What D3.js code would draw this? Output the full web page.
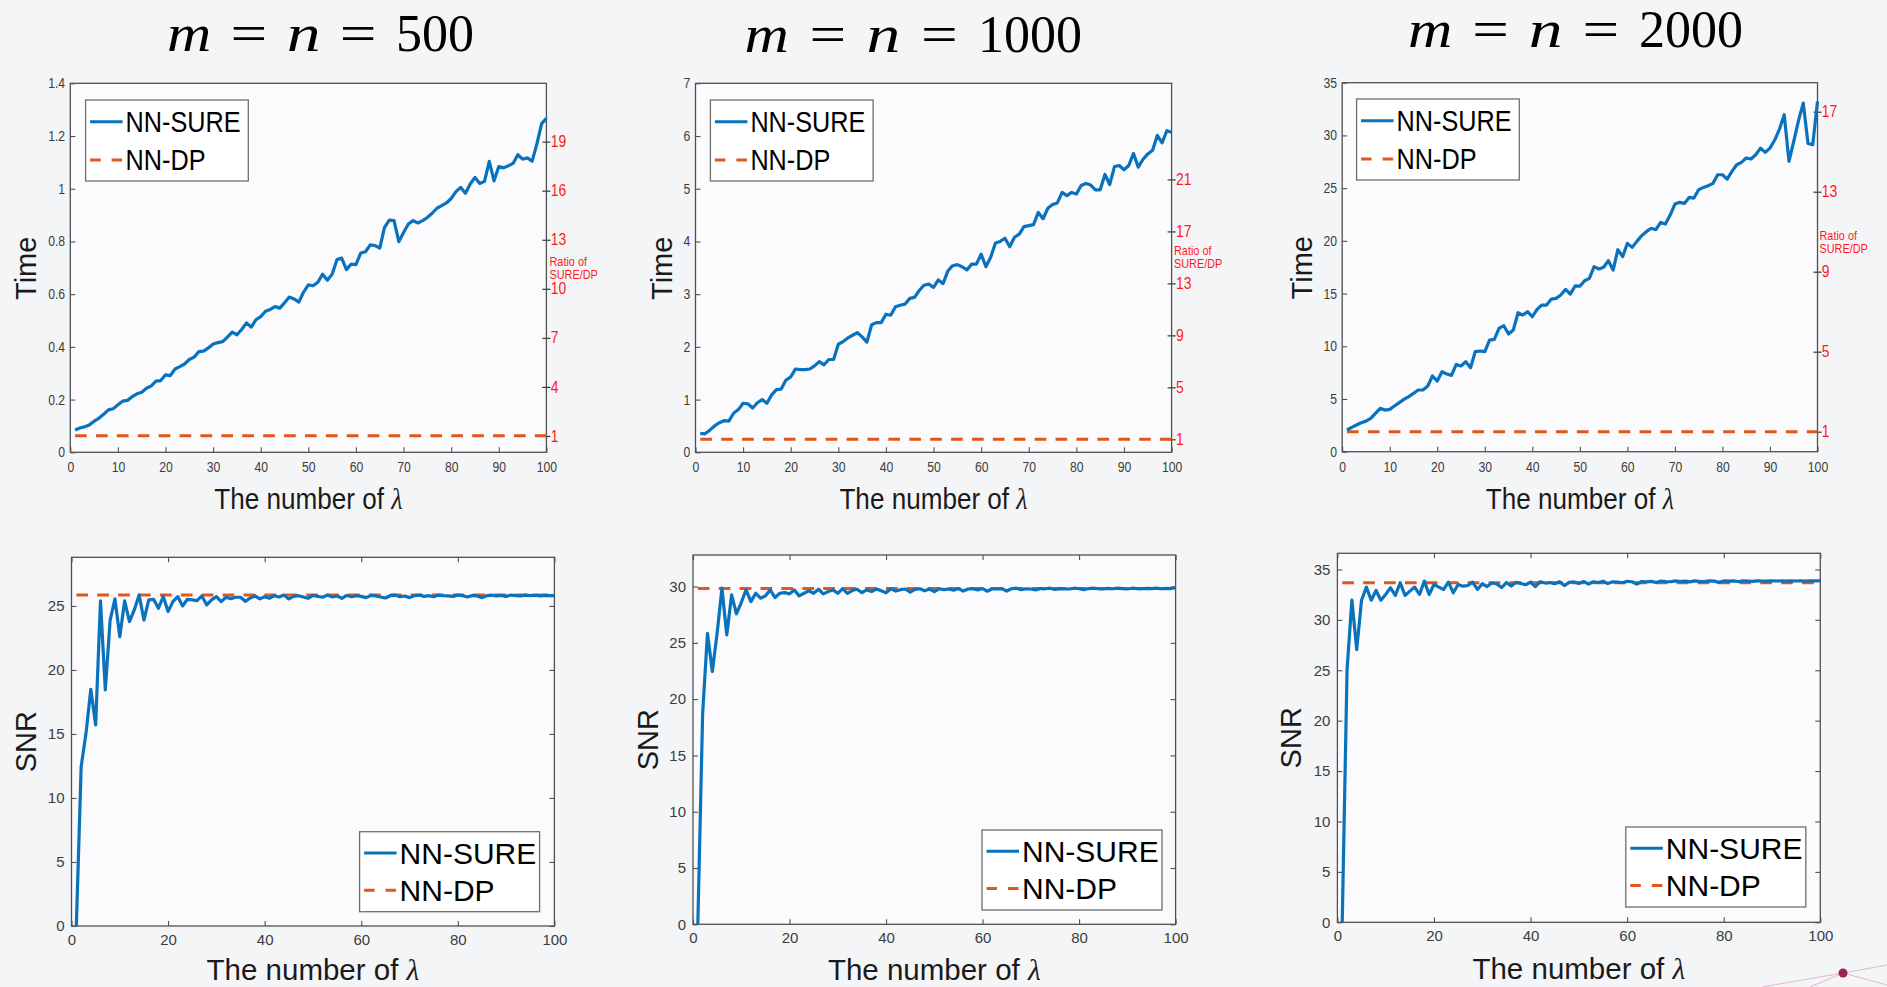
<!DOCTYPE html>
<html>
<head>
<meta charset="utf-8">
<script src="https://cdnjs.cloudflare.com/ajax/libs/d3/7.8.5/d3.min.js"></script>
<style>
  body { margin: 0; background: #f4f5f7; overflow: hidden; }
  svg { display: block; font-family: "Liberation Sans", Arial, Helvetica, sans-serif; }
</style>
</head>
<body>
<div id="chart"></div>
<script>
var W = 1887, H = 987;

// ---- data ----
var lambda = d3.range(1, 101);
var sizes = [500, 1000, 2000];
var seriesNames = ["NN-SURE", "NN-DP"];

var time500 = [0.085,0.092,0.097,0.104,0.118,0.129,0.144,0.161,0.165,0.180,
  0.194,0.197,0.211,0.222,0.228,0.243,0.252,0.270,0.272,0.294,
  0.291,0.316,0.325,0.335,0.352,0.361,0.382,0.384,0.396,0.411,
  0.416,0.420,0.437,0.456,0.446,0.466,0.491,0.475,0.503,0.515,
  0.535,0.542,0.553,0.547,0.567,0.589,0.582,0.570,0.608,0.635,
  0.632,0.645,0.676,0.653,0.676,0.731,0.737,0.693,0.714,0.712,
  0.756,0.761,0.787,0.784,0.775,0.853,0.881,0.879,0.799,0.834,
  0.866,0.879,0.870,0.879,0.891,0.907,0.926,0.936,0.946,0.963,
  0.989,1.005,0.983,1.018,1.043,1.020,1.028,1.104,1.030,1.084,
  1.079,1.087,1.096,1.129,1.112,1.117,1.104,1.170,1.247,1.267];

var time1000 = [0.36,0.35,0.42,0.50,0.56,0.60,0.59,0.74,0.81,0.93,
  0.92,0.84,0.94,1.00,0.93,1.09,1.19,1.20,1.37,1.43,
  1.58,1.57,1.57,1.58,1.64,1.72,1.66,1.76,1.76,2.05,
  2.10,2.17,2.22,2.27,2.19,2.09,2.42,2.46,2.46,2.62,
  2.60,2.76,2.79,2.81,2.92,2.94,3.07,3.17,3.19,3.13,
  3.27,3.20,3.44,3.54,3.56,3.52,3.46,3.57,3.57,3.76,
  3.52,3.70,3.97,4.00,4.06,3.90,4.08,4.14,4.28,4.30,
  4.32,4.55,4.43,4.63,4.70,4.73,4.93,4.87,4.93,4.90,
  5.06,5.10,5.07,4.98,4.98,5.27,5.08,5.42,5.44,5.36,
  5.44,5.67,5.41,5.56,5.66,5.73,6.01,5.87,6.10,6.07];

var time2000 = [2.06,2.31,2.53,2.75,2.90,3.16,3.64,4.11,3.95,4.02,
  4.33,4.65,4.96,5.22,5.53,5.85,5.85,6.23,7.18,6.70,
  7.59,7.37,7.24,8.28,8.13,8.54,7.97,9.49,9.55,9.49,
  10.59,10.65,11.70,11.95,11.16,11.54,13.18,12.96,13.28,12.80,
  13.50,13.91,13.91,14.48,14.54,14.86,15.40,14.95,15.72,15.70,
  16.22,16.44,17.55,17.33,17.49,18.12,17.23,19.16,18.50,19.76,
  19.38,19.95,20.49,20.87,21.19,21.06,21.75,21.59,22.45,23.49,
  23.65,23.55,24.12,24.06,24.85,25.07,25.23,25.45,26.27,26.27,
  25.86,26.59,27.22,27.44,27.86,27.76,28.17,28.80,28.39,28.80,
  29.56,30.60,31.96,27.54,29.44,31.40,33.07,29.24,29.12,33.23];

var snr500 = [0,12.45,15.05,18.49,15.70,25.39,18.44,23.90,25.55,22.60,
  25.39,23.78,24.69,25.86,23.90,25.47,25.52,24.82,25.73,24.56,
  25.34,25.73,25.00,25.52,25.47,25.42,25.78,25.08,25.47,25.73,
  25.34,25.68,25.57,25.68,25.68,25.36,25.62,25.78,25.55,25.72,
  25.60,25.80,25.70,25.85,25.55,25.75,25.80,25.70,25.60,25.82,
  25.75,25.68,25.85,25.70,25.78,25.60,25.82,25.72,25.80,25.75,
  25.65,25.82,25.78,25.70,25.62,25.80,25.85,25.72,25.78,25.65,
  25.80,25.85,25.75,25.80,25.72,25.85,25.80,25.78,25.75,25.85,
  25.80,25.70,25.82,25.78,25.65,25.80,25.85,25.78,25.82,25.75,
  25.85,25.80,25.78,25.84,25.80,25.85,25.78,25.82,25.80,25.80];

var snr1000 = [0,18.74,25.85,22.45,25.85,29.85,25.70,29.26,27.57,28.58,
  29.70,28.66,29.40,28.96,29.17,29.70,29.02,29.40,29.46,29.35,
  29.70,29.17,29.40,29.61,29.40,29.76,29.35,29.55,29.70,29.40,
  29.82,29.40,29.64,29.76,29.46,29.70,29.55,29.78,29.62,29.45,
  29.80,29.60,29.72,29.78,29.50,29.75,29.80,29.62,29.78,29.55,
  29.80,29.72,29.78,29.68,29.82,29.60,29.78,29.80,29.70,29.82,
  29.58,29.80,29.78,29.82,29.60,29.80,29.85,29.72,29.80,29.78,
  29.70,29.82,29.80,29.85,29.75,29.82,29.80,29.78,29.85,29.80,
  29.72,29.82,29.85,29.80,29.78,29.84,29.80,29.85,29.82,29.78,
  29.85,29.82,29.80,29.84,29.82,29.85,29.80,29.84,29.82,29.90];

var snr2000 = [0,25.07,31.95,27.05,31.95,33.25,31.95,32.91,31.95,32.52,
  33.18,32.42,33.68,32.42,32.85,33.25,32.52,33.84,32.52,33.51,
  33.25,33.01,33.74,32.68,33.51,33.34,33.41,33.74,33.01,33.58,
  33.30,33.65,33.55,33.20,33.70,33.35,33.72,33.60,33.48,33.75,
  33.30,33.78,33.65,33.70,33.58,33.78,33.40,33.72,33.76,33.60,
  33.80,33.55,33.78,33.70,33.82,33.60,33.78,33.75,33.68,33.82,
  33.78,33.55,33.80,33.76,33.82,33.70,33.84,33.80,33.78,33.86,
  33.80,33.84,33.76,33.86,33.82,33.80,33.86,33.84,33.72,33.86,
  33.84,33.86,33.80,33.86,33.84,33.82,33.86,33.85,33.84,33.86,
  33.85,33.86,33.84,33.86,33.85,33.86,33.85,33.86,33.86,33.86];

var timeSeries = [time500, time1000, time2000];
var snrSeries = [snr500, snr1000, snr2000];
var dpTime = [0.063, 0.247, 1.9];
var dpSnr = [25.86, 29.83, 33.68];

var timeMax = [1.4, 7, 35];
var timeTicks = [[0,0.2,0.4,0.6,0.8,1,1.2,1.4], [0,1,2,3,4,5,6,7], [0,5,10,15,20,25,30,35]];
var ratioMax = [22.57, 28.4, 18.45];
var ratioTicks = [[1,4,7,10,13,16,19], [1,5,9,13,17,21], [1,5,9,13,17]];
var snrMax = [28.8, 32.8, 36.6];
var snrTicks = [[0,5,10,15,20,25], [0,5,10,15,20,25,30], [0,5,10,15,20,25,30,35]];
var xTicksTop = [0,10,20,30,40,50,60,70,80,90,100];
var xTicksBottom = [0,20,40,60,80,100];

// ---- layout ----
var topBoxes = [
  {x0: 70.3, x1: 546.4, y0: 83.3, y1: 452.3, ylab: 26, ratioLab: [549.5, 266], title: [320.4, 51, 307]},
  {x0: 695.5, x1: 1171.6, y0: 83.3, y1: 452.3, ylab: 662, ratioLab: [1174, 255], title: [913.3, 51.5, 337.5]},
  {x0: 1342.2, x1: 1817.5, y0: 82.7, y1: 451.7, ylab: 1301.5, ratioLab: [1819.5, 240], title: [1575.5, 47, 335]}
];
var topLegends = [{x: 85.6, y: 100}, {x: 710.4, y: 100}, {x: 1356.6, y: 99}];
var bottomBoxes = [
  {x0: 71.5, x1: 554.4, y0: 557.3, y1: 926, ylab: 26},
  {x0: 693, x1: 1175.6, y0: 555, y1: 924.3, ylab: 648},
  {x0: 1337.4, x1: 1820.3, y0: 553.3, y1: 922.3, ylab: 1291}
];
var bottomLegends = [{x: 359.6, y: 831.7}, {x: 982, y: 830}, {x: 1625.8, y: 827}];

var blue = "#0a72bd", orange = "#e2561c", axisCol = "#505050", tickTextCol = "#3c3c3c";

var svg = d3.select("#chart").append("svg")
    .attr("width", W)
    .attr("height", H);

svg.append("rect").attr("width", W).attr("height", H).attr("fill", "#f4f5f7");

/** legend box with the two series */
function drawLegend(g, x0, y0, w, h, fs, sx, r1, r2) {
    var lg = g.append("g").attr("transform", "translate(" + x0 + "," + y0 + ")");
    lg.append("rect")
        .attr("width", w).attr("height", h)
        .attr("fill", "#ffffff")
        .attr("stroke", "#6e6e6e").attr("stroke-width", 1.3);
    var rows = [r1, r2];
    seriesNames.forEach(function(name, i) {
        lg.append("line")
            .attr("x1", 4.5).attr("x2", 37)
            .attr("y1", rows[i]).attr("y2", rows[i])
            .attr("stroke", i === 0 ? blue : orange)
            .attr("stroke-width", 3)
            .attr("stroke-dasharray", i === 0 ? null : "10.5,11");
        lg.append("text")
            .attr("transform", "translate(40," + rows[i] + ") scale(" + sx + ",1)")
            .attr("dy", "0.36em")
            .attr("font-size", fs)
            .attr("fill", "#000")
            .text(name);
    });
}

function xLabel(g, cx, y, fs, sx) {
    var t = g.append("text")
        .attr("transform", "translate(" + cx + "," + y + ") scale(" + sx + ",1)")
        .attr("text-anchor", "middle")
        .attr("font-size", fs)
        .attr("fill", "#1a1a1a");
    t.append("tspan").text("The number of ");
    t.append("tspan")
        .attr("font-family", "'Liberation Serif', 'DejaVu Serif', serif")
        .attr("font-style", "italic")
        .text("λ");
}

function yLabel(g, x, y, str) {
    g.append("text")
        .attr("transform", "translate(" + x + "," + y + ") rotate(-90)")
        .attr("text-anchor", "middle")
        .attr("dy", "0.36em")
        .attr("font-size", 29)
        .attr("fill", "#1a1a1a")
        .text(str);
}

/** title m = n = N built from pieces, glyphs widened like Computer Modern */
function drawTitle(cx, base, width, n) {
    var tg = svg.append("g").attr("font-family", "'Liberation Serif', 'Times New Roman', serif")
        .attr("font-size", 52).attr("fill", "#000");
    var parts = [{t: "m", it: true, sx: 1.18}, {t: "=", sx: 1.25}, {t: "n", it: true, sx: 1.3},
                 {t: "=", sx: 1.25}, {t: String(n), sx: 1}];
    var nodes = parts.map(function(p) {
        return tg.append("text")
            .attr("font-style", p.it ? "italic" : null)
            .text(p.t);
    });
    var lens = nodes.map(function(s, i) { return s.node().getComputedTextLength() * parts[i].sx; });
    var gap = (width - d3.sum(lens)) / (parts.length - 1);
    var x = cx - width / 2;
    nodes.forEach(function(s, i) {
        s.attr("transform", "translate(" + x + "," + base + ") scale(" + parts[i].sx + ",1)");
        x += lens[i] + gap;
    });
}

/** top row: computing time */
function drawTimePanel(i) {
    var b = topBoxes[i];
    var sx = 0.87;
    var g = svg.append("g").attr("class", "time-panel");

    var x = d3.scaleLinear().domain([0, 100]).range([b.x0, b.x1]);
    var y = d3.scaleLinear().domain([0, timeMax[i]]).range([b.y1, b.y0]);
    var r = d3.scaleLinear().domain([0, ratioMax[i]]).range([b.y1, b.y0]);

    g.append("rect")
        .attr("x", b.x0).attr("y", b.y0)
        .attr("width", b.x1 - b.x0).attr("height", b.y1 - b.y0)
        .attr("fill", "#fbfbfd");

    var yAx = g.append("g")
        .attr("transform", "translate(" + b.x0 + ",0)")
        .call(d3.axisLeft(y).tickValues(timeTicks[i]).tickFormat(d3.format("~g"))
            .tickSizeInner(-5).tickSizeOuter(0).tickPadding(6));
    var xAx = g.append("g")
        .attr("transform", "translate(0," + b.y1 + ")")
        .call(d3.axisBottom(x).tickValues(xTicksTop)
            .tickSizeInner(-5).tickSizeOuter(0).tickPadding(10));
    var rAx = g.append("g")
        .attr("transform", "translate(" + b.x1 + ",0)")
        .call(d3.axisRight(r).tickValues(ratioTicks[i]).tickSizeOuter(0).tickSizeInner(4).tickPadding(1));

    [yAx, xAx].forEach(function(a) {
        a.select(".domain").remove();
        a.selectAll("line").attr("stroke", axisCol).attr("stroke-width", 1.1);
        a.selectAll("text").attr("font-size", 14).attr("fill", tickTextCol)
            .attr("font-family", null)
            .attr("transform", "scale(" + sx + ",1)");
    });
    rAx.select(".domain").remove();
    rAx.selectAll("line").attr("x1", -4).attr("x2", 4).attr("stroke", "#333").attr("stroke-width", 1.2);
    rAx.selectAll("text").attr("font-size", 16).attr("fill", "#ff1a1a")
        .attr("font-family", null)
        .attr("transform", "scale(" + sx + ",1)");

    g.append("rect")
        .attr("x", b.x0).attr("y", b.y0)
        .attr("width", b.x1 - b.x0).attr("height", b.y1 - b.y0)
        .attr("fill", "none").attr("stroke", axisCol).attr("stroke-width", 1.3);

    var line = d3.line()
        .x(function(d, k) { return x(lambda[k]); })
        .y(function(d) { return y(d); });

    g.append("path")
        .datum([dpTime[i], dpTime[i]])
        .attr("fill", "none").attr("stroke", orange).attr("stroke-width", 3)
        .attr("stroke-dasharray", "11.7,9.2")
        .attr("d", d3.line()
            .x(function(d, k) { return x(k === 0 ? lambda[0] : lambda[lambda.length - 1]); })
            .y(function(d) { return y(d); }));

    g.append("path")
        .datum(timeSeries[i])
        .attr("fill", "none").attr("stroke", blue).attr("stroke-width", 3.2)
        .attr("stroke-linejoin", "round")
        .attr("d", line);

    // ratio caption
    var rl = g.append("text")
        .attr("transform", "translate(" + b.ratioLab[0] + "," + b.ratioLab[1] + ") scale(" + sx + ",1)")
        .attr("font-size", 12.5).attr("fill", "#ff1a1a");
    rl.append("tspan").attr("x", 0).attr("dy", 0).text("Ratio of");
    rl.append("tspan").attr("x", 0).attr("dy", 13.5).text("SURE/DP");

    drawLegend(g, topLegends[i].x, topLegends[i].y, 162.7, 81, 29, sx, 21.7, 60);
    yLabel(g, b.ylab, (b.y0 + b.y1) / 2 + 0.5, "Time");
    xLabel(g, (b.x0 + b.x1) / 2, b.y1 + 57, 29, 0.9);
    drawTitle(b.title[0], b.title[1], b.title[2], sizes[i]);
}

/** bottom row: SNR */
function drawSnrPanel(i) {
    var b = bottomBoxes[i];
    var g = svg.append("g").attr("class", "snr-panel");

    var x = d3.scaleLinear().domain([0, 100]).range([b.x0, b.x1]);
    var y = d3.scaleLinear().domain([0, snrMax[i]]).range([b.y1, b.y0]);

    g.append("rect")
        .attr("x", b.x0).attr("y", b.y0)
        .attr("width", b.x1 - b.x0).attr("height", b.y1 - b.y0)
        .attr("fill", "#fbfbfd");

    var axes = [
        g.append("g").attr("transform", "translate(" + b.x0 + ",0)")
            .call(d3.axisLeft(y).tickValues(snrTicks[i]).tickSizeInner(-5).tickSizeOuter(0).tickPadding(7)),
        g.append("g").attr("transform", "translate(0," + b.y1 + ")")
            .call(d3.axisBottom(x).tickValues(xTicksBottom).tickSizeInner(-5).tickSizeOuter(0).tickPadding(8)),
        g.append("g").attr("transform", "translate(" + b.x1 + ",0)")
            .call(d3.axisRight(y).tickValues(snrTicks[i]).tickSizeInner(-5).tickSizeOuter(0).tickFormat("")),
        g.append("g").attr("transform", "translate(0," + b.y0 + ")")
            .call(d3.axisTop(x).tickValues(xTicksBottom).tickSizeInner(-5).tickSizeOuter(0).tickFormat(""))
    ];
    axes.forEach(function(a) {
        a.select(".domain").remove();
        a.selectAll("line").attr("stroke", axisCol).attr("stroke-width", 1.1);
        a.selectAll("text").attr("font-size", 15).attr("fill", tickTextCol).attr("font-family", null);
    });

    g.append("rect")
        .attr("x", b.x0).attr("y", b.y0)
        .attr("width", b.x1 - b.x0).attr("height", b.y1 - b.y0)
        .attr("fill", "none").attr("stroke", axisCol).attr("stroke-width", 1.3);

    g.append("path")
        .datum([dpSnr[i], dpSnr[i]])
        .attr("fill", "none").attr("stroke", orange).attr("stroke-width", 3)
        .attr("stroke-dasharray", "11.7,9.2")
        .attr("d", d3.line()
            .x(function(d, k) { return x(k === 0 ? lambda[0] : lambda[lambda.length - 1]); })
            .y(function(d) { return y(d); }));

    g.append("path")
        .datum(snrSeries[i])
        .attr("fill", "none").attr("stroke", blue).attr("stroke-width", 3.2)
        .attr("stroke-linejoin", "round")
        .attr("d", d3.line()
            .x(function(d, k) { return x(lambda[k]); })
            .y(function(d) { return y(d); }));

    drawLegend(g, bottomLegends[i].x, bottomLegends[i].y, 180, 80, 30, 1, 21.3, 58.5);
    yLabel(g, b.ylab, (b.y0 + b.y1) / 2, "SNR");
    xLabel(g, (b.x0 + b.x1) / 2, Math.min(b.y1 + 57, 980), 29.5, 1);
}

for (var i = 0; i < 3; i++) {
    drawTimePanel(i);
    drawSnrPanel(i);
}

// slide decoration, bottom right corner
var deco = svg.append("g").attr("stroke", "#e3b7cc").attr("stroke-width", 1);
deco.append("line").attr("x1", 1843).attr("y1", 973).attr("x2", 1762).attr("y2", 987);
deco.append("line").attr("x1", 1843).attr("y1", 973).attr("x2", 1887).attr("y2", 965);
deco.append("line").attr("x1", 1843).attr("y1", 973).attr("x2", 1810).attr("y2", 987);
deco.append("line").attr("x1", 1843).attr("y1", 973).attr("x2", 1887).attr("y2", 985);
svg.append("circle").attr("cx", 1843).attr("cy", 973).attr("r", 4.5).attr("fill", "#9c2356");
</script>
</body>
</html>
